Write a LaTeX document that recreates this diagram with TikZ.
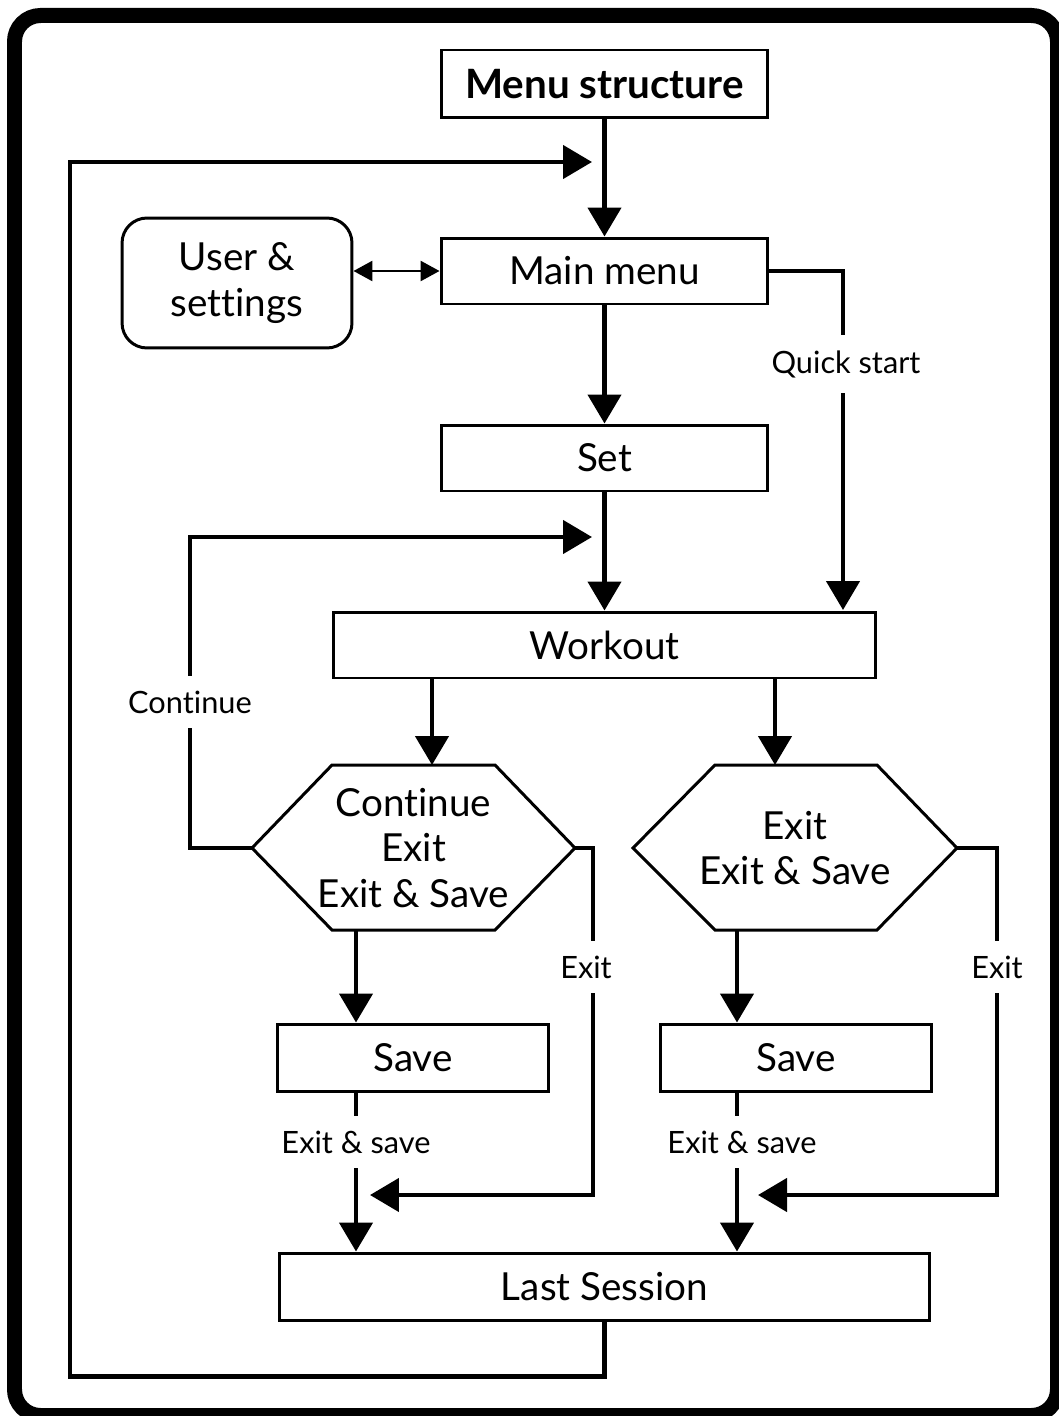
\documentclass[tikz,border=0pt]{standalone}
\usepackage{fontspec}
\setmainfont{Lato}[Ligatures=NoCommon]
\usetikzlibrary{arrows.meta,positioning}

\tikzset{
  box/.style={rectangle, draw, line width=1.7pt, minimum height=1.32cm, align=center, font=\fontsize{22}{26}\selectfont},
  hexa/.style={line width=1.7pt, line join=miter},
  flow/.style={line width=2.6pt, -{Triangle[length=0.58cm,width=0.66cm]}},
  both/.style={line width=1.5pt, {Triangle[length=0.38cm,width=0.4cm]}-{Triangle[length=0.38cm,width=0.4cm]}},
  lbl/.style={fill=white, inner sep=0.3cm, font=\fontsize{17.5}{21}\selectfont},
}

\begin{document}
\begin{tikzpicture}[x=0.02cm, y=-0.02cm]
\useasboundingbox (0,0) rectangle (1058,1416);
% frame
\draw[line width=0.3cm, rounded corners=0.52cm] (14.5,15.5) rectangle (1057.5,1415.5);

% boxes
\node[box, font=\bfseries\fontsize{23}{26}\selectfont, minimum width=6.54cm, minimum height=1.36cm] (title) at (604.5,84) {Menu structure};
\node[box, minimum width=6.54cm] (main) at (604.5,271) {Main menu};
\node[box, rounded corners=0.5cm, minimum width=4.6cm, minimum height=2.6cm] (user) at (237,283) {User \&\\settings};
\node[box, minimum width=6.54cm] (set) at (604.5,458) {Set};
\node[box, minimum width=10.86cm] (workout) at (604.5,645) {Workout};
\node[box, minimum width=5.44cm, minimum height=1.34cm] (saveL) at (413,1057.5) {Save};
\node[box, minimum width=5.44cm, minimum height=1.34cm] (saveR) at (796,1057.5) {Save};
\node[box, minimum width=13.02cm, minimum height=1.34cm] (last) at (604.5,1286.5) {Last Session};

% choices
\draw[hexa] (332,765) -- (495,765) -- (575,848) coordinate (hl-e) -- (495,930) -- (332,930) -- (252,848) coordinate (hl-w) -- cycle;
\node[align=center, font=\fontsize{22}{26}\selectfont] (pickL) at (413.5,848) {Continue\\Exit\\Exit \& Save};
\draw[hexa] (715,765) -- (877,765) -- (957,848) coordinate (hr-e) -- (877,930) -- (715,930) -- (633,848) -- cycle;
\node[align=center, font=\fontsize{22}{26}\selectfont] (pickR) at (795,848) {Exit\\Exit \& Save};

\coordinate (back) at (592,162);
\coordinate (again) at (592,537);
\coordinate (qs) at (843,610);
\coordinate (hl-in) at (432,765);
\coordinate (hr-in) at (775,765);
\coordinate (hl-out) at (356,930);
\coordinate (hr-out) at (737,930);
\coordinate (exL) at (370,1195);
\coordinate (exR) at (758,1195);

% connectors
\draw[flow] (title) -- (main);
\draw[both] (user.east |- main) -- (main.west);
\draw[flow] (main) -- (set);
\draw[flow] (set) -- (workout);
\draw[flow] (main.east) -| (qs);
\draw[flow] (workout.south -| hl-in) -- (hl-in);
\draw[flow] (workout.south -| hr-in) -- (hr-in);
\draw[flow] (hl-w) -| (190,537) -- (again);
\draw[flow] (hl-out) -- (hl-out |- saveL.north);
\draw[flow] (hr-out) -- (hr-out |- saveR.north);
\draw[flow] (hl-e) -| (593,1195) -- (exL);
\draw[flow] (hr-e) -| (997,1195) -- (exR);
\draw[flow] (saveL.south -| hl-out) -- (hl-out |- last.north);
\draw[flow] (saveR.south -| hr-out) -- (hr-out |- last.north);
\draw[flow] (last.south) -- ++(0,55) -| (70,162) -- (back);

% labels
\node[lbl] (qsLbl) at (846,364) {Quick start};
\node[lbl] (contLbl) at (190,702) {Continue};
\node[lbl] (exLLbl) at (586,967) {Exit};
\node[lbl] (exRLbl) at (997,967) {Exit};
\node[lbl] (esL) at (356,1142) {Exit \& save};
\node[lbl] (esR) at (742,1142) {Exit \& save};
\end{tikzpicture}
\end{document}
